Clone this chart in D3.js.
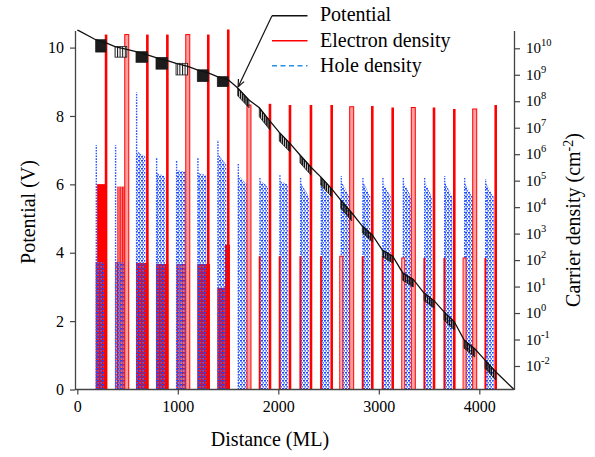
<!DOCTYPE html>
<html>
<head>
<meta charset="utf-8">
<script src="https://cdn.jsdelivr.net/npm/d3@7"></script>
<style>
  body { margin: 0; background: #fff; }
  text { font-family: "Liberation Serif", "Times New Roman", serif; fill: #000; }
</style>
</head>
<body>
<svg id="chart" width="595" height="457"></svg>
<script>
// ---- data ----
// 20 quantum wells: hole region starts at wellStart, electron spike sits at wellEnd (ML)
var wellStart = [183, 375, 584, 783, 982, 1194, 1393, 1596, 1811, 2010, 2216, 2422, 2621, 2836, 3035, 3238, 3450, 3649, 3848, 4057];
var wellEnd   = [286, 492, 697, 896, 1099, 1303, 1502, 1708, 1917, 2116, 2325, 2531, 2730, 2935, 3138, 3343, 3549, 3751, 3954, 4163];
var hollowWell = [0, 1, 0, 0, 1, 0, 0, 1, 0, 0, 0, 0, 1, 0, 0, 1, 0, 0, 1, 0];

// electron density peak at the right edge of each well (cm-2)
var spikeTop = [3.3e10, 3.3e10, 3.3e10, 3.3e10, 3.3e10, 3.3e10, 6e10, 7.2e7, 8e7, 7.2e7,
                7.2e7, 7.2e7, 6.2e7, 6.6e7, 5.8e7, 5.8e7, 5.8e7, 5.1e7, 5.1e7, 7.2e7];
// electron density at the left edge of wells 9-20
var edgeTop = [null, null, null, null, null, null, null, null, 140, 140,
               140, 140, 140, 140, 140, 120, 120, 120, 120, 120];

// electron density plateaus inside the first wells
var elecBlockStart = [183, 375, 584, 783, 982, 1194, 1393, 1469, 197, 398];
var elecBlockEnd   = [296, 514, 706, 905, 1114, 1320, 1469, 1519, 293, 501];
var elecBlockN     = [85, 85, 78, 71, 71, 71, 9, 380, 7.4e4, 6e4];
var elecBlockStripe = [0, 1, 0, 0, 1, 0, 0, 0, 0, 1];

// hole density: peak at the left edge, then level just after it and at the right end
var holePeak = [2.2e6, 2.2e6, 2.2e8, 7e5, 6e5, 7e5, 3.4e6, 4.5e5, 1.4e5, 1.6e5,
                1.4e5, 8e4, 1.5e5, 1.4e5, 1.25e5, 1.4e5, 1.4e5, 1.5e5, 1.25e5, 1.15e5];
var holeMid  = [85, 85, 1.3e6, 2e5, 2.5e5, 2e5, 1e6, 1.6e5, 1e5, 1e5,
                8e4, 6e4, 9e4, 9e4, 8e4, 9e4, 9e4, 9e4, 8e4, 8e4];
var holeEnd  = [85, 85, 8e5, 1.4e5, 2.2e5, 1.6e5, 4e5, 7e4, 6e4, 7e4,
                2.5e4, 2.5e4, 2.5e4, 2.5e4, 2.5e4, 2.4e4, 2.4e4, 2.4e4, 2.4e4, 2.4e4];

// potential (V): mean line and the oscillating region inside each well
var potX = [0, 183, 286, 375, 492, 584, 697, 783, 896, 982, 1099, 1194, 1303, 1393, 1502,
            1596, 1708, 1811, 1917, 2010, 2116, 2216, 2325, 2422, 2531, 2621, 2730, 2836, 2935,
            3035, 3138, 3238, 3343, 3450, 3549, 3649, 3751, 3848, 3954, 4057, 4163, 4345];
var potV = [10.52, 10.23, 10.14, 10.03, 9.95, 9.88, 9.79, 9.71, 9.62, 9.54, 9.45, 9.35, 9.26, 9.15, 9.06,
            8.82, 8.47, 8.24, 7.85, 7.52, 7.2, 6.86, 6.5, 6.22, 5.87, 5.54, 5.17, 4.78, 4.52,
            4.08, 3.9, 3.41, 3.22, 2.82, 2.6, 2.27, 1.98, 1.45, 1.19, 0.86, 0.52, 0];
var blockTop = [10.23, 10.03, 9.88, 9.71, 9.54, 9.35, 9.15, 8.82, 8.24, 7.52,
                6.86, 6.22, 5.54, 4.78, 4.08, 3.41, 2.82, 2.27, 1.45, 0.86];
var blockBot = [9.87, 9.72, 9.57, 9.37, 9.20, 9.01, 8.86, 8.24, 7.59, 6.95,
                6.27, 5.63, 4.93, 4.32, 3.70, 3.00, 2.38, 1.74, 0.95, 0.28];
var blockKind = ["solid", "stripe", "solid", "solid", "stripe", "solid", "solid", "jag", "jag", "jag",
                 "jag", "jag", "jag", "jag", "jag", "jag", "jag", "jag", "jag", "jag"];

var xTicks = [0, 1000, 2000, 3000, 4000];
var vTicks = [0, 2, 4, 6, 8, 10];
var nExp = [-2, -1, 0, 1, 2, 3, 4, 5, 6, 7, 8, 9, 10];

var legendNames = ["Potential", "Electron density", "Hole density"];

// ---- scales ----
var plotL = 75, plotR = 514, plotT = 30.5, plotB = 389.5;
var x = d3.scaleLinear().domain([-23, 4345]).range([plotL, plotR]);
var y = d3.scaleLinear().domain([0, 10.5]).range([plotB, plotT]);
var yN = d3.scaleLog().domain([Math.pow(10, -2.888), Math.pow(10, 10.672)]).range([plotB, plotT]);

var svg = d3.select("#chart");
var defs = svg.append("defs");

defs.append("clipPath").attr("id", "plotClip")
    .append("rect").attr("x", plotL).attr("y", plotT - 1)
    .attr("width", plotR - plotL).attr("height", plotB - plotT + 1);

// dashed hole line oscillating every monolayer -> dense blue zigzag texture
var holeTex = defs.append("pattern").attr("id", "holeTex")
    .attr("patternUnits", "userSpaceOnUse").attr("width", 3).attr("height", 4);
holeTex.append("rect").attr("x", 0).attr("y", 0).attr("width", 2).attr("height", 1.6).attr("fill", "#1a46ff");
holeTex.append("rect").attr("x", 1.4).attr("y", 2).attr("width", 1.6).attr("height", 1.6).attr("fill", "#3f6cff");

var redStripe = defs.append("pattern").attr("id", "redStripe")
    .attr("patternUnits", "userSpaceOnUse").attr("width", 2.6).attr("height", 10);
redStripe.append("rect").attr("width", 2.6).attr("height", 10).attr("fill", "#ff8f8f");
redStripe.append("rect").attr("width", 1.2).attr("height", 10).attr("fill", "#ff0000");

var potStripe = defs.append("pattern").attr("id", "potStripe")
    .attr("patternUnits", "userSpaceOnUse").attr("width", 2.6).attr("height", 10);
potStripe.append("rect").attr("width", 2.6).attr("height", 10).attr("fill", "#fff");
potStripe.append("rect").attr("width", 1).attr("height", 10).attr("fill", "#111");

var jagTex = defs.append("pattern").attr("id", "jagTex")
    .attr("patternUnits", "userSpaceOnUse").attr("width", 2.2).attr("height", 10);
jagTex.append("rect").attr("width", 1.6).attr("height", 10).attr("fill", "#151515");

var plot = svg.append("g").attr("clip-path", "url(#plotClip)");

var wells = d3.range(wellStart.length).map(function(i) {
    return {
        i: i, x0: wellStart[i], x1: wellEnd[i], hollow: hollowWell[i],
        spike: spikeTop[i], edge: edgeTop[i],
        hPeak: holePeak[i], hMid: holeMid[i], hEnd: holeEnd[i],
        vTop: blockTop[i], vBot: blockBot[i], kind: blockKind[i]
    };
});
var blocks = elecBlockStart.map(function(s, i) {
    return { x0: s, x1: elecBlockEnd[i], n: elecBlockN[i], stripe: elecBlockStripe[i] };
});

// electron plateaus
plot.selectAll("rect.eblock").data(blocks).enter().append("rect")
    .attr("class", "eblock")
    .attr("x", function(d) { return x(d.x0); })
    .attr("width", function(d) { return x(d.x1) - x(d.x0); })
    .attr("y", function(d) { return yN(d.n); })
    .attr("height", function(d) { return plotB - yN(d.n); })
    .attr("fill", function(d) { return d.stripe ? "url(#redStripe)" : "#ff0000"; });

// hole density
plot.selectAll("path.hole").data(wells).enter().append("path")
    .attr("class", "hole")
    .attr("fill", "url(#holeTex)")
    .attr("d", function(d) {
        var a = x(d.x0 + 8), b = x(d.x1 - 20);
        return "M" + a + "," + plotB + "L" + a + "," + yN(d.hMid) +
               "L" + b + "," + yN(d.hEnd) + "L" + b + "," + plotB + "Z";
    });
plot.selectAll("line.holePeak").data(wells).enter().append("line")
    .attr("class", "holePeak")
    .attr("x1", function(d) { return x(d.x0) + 0.6; })
    .attr("x2", function(d) { return x(d.x0) + 0.6; })
    .attr("y1", plotB)
    .attr("y2", function(d) { return yN(d.hPeak); })
    .attr("stroke", "#2a58ff").attr("stroke-width", 1.4)
    .attr("stroke-dasharray", "1.6,1.2");

// electron density at left well edge
var edges = wells.filter(function(d) { return d.edge !== null; });
plot.selectAll("rect.edge").data(edges).enter().append("rect")
    .attr("class", "edge")
    .attr("x", function(d) { return x(d.x0) - (d.hollow ? 1 : 0.6); })
    .attr("width", function(d) { return d.hollow ? 3 : 1.8; })
    .attr("y", function(d) { return yN(d.edge); })
    .attr("height", function(d) { return plotB - yN(d.edge); })
    .attr("fill", function(d) { return d.hollow ? "#ffb0b0" : "#ff0000"; })
    .attr("stroke", function(d) { return d.hollow ? "#ff0000" : "none"; })
    .attr("stroke-width", 0.9);

// electron spikes
plot.selectAll("rect.spike").data(wells).enter().append("rect")
    .attr("class", "spike")
    .attr("x", function(d) { return x(d.x1) - (d.hollow ? 2 : 1.3); })
    .attr("width", function(d) { return d.hollow ? 4 : 2.6; })
    .attr("y", function(d) { return yN(d.spike); })
    .attr("height", function(d) { return plotB - yN(d.spike) + 2; })
    .attr("fill", function(d) { return d.hollow ? "#ffa0a0" : "#ff0000"; })
    .attr("stroke", function(d) { return d.hollow ? "#ff0000" : "none"; })
    .attr("stroke-width", 1);

// potential: oscillating regions inside the wells
plot.selectAll("rect.pblock").data(wells.filter(function(d) { return d.kind !== "jag"; }))
    .enter().append("rect")
    .attr("class", "pblock")
    .attr("x", function(d) { return x(d.x0); })
    .attr("width", function(d) { return x(d.x1) - x(d.x0); })
    .attr("y", function(d) { return y(d.vTop); })
    .attr("height", function(d) { return y(d.vBot) - y(d.vTop); })
    .attr("fill", function(d) { return d.kind === "stripe" ? "url(#potStripe)" : "#1c1c1c"; })
    .attr("stroke", "#1c1c1c").attr("stroke-width", 0.8);

// jagged wells: band between the mean line and the lowest swing
plot.selectAll("path.pjag").data(wells.filter(function(d) { return d.kind === "jag"; }))
    .enter().append("path")
    .attr("class", "pjag")
    .attr("d", function(d) {
        var lineEnd = potV[potX.indexOf(d.x1)];
        var depth = lineEnd - d.vBot;
        return "M" + x(d.x0) + "," + y(d.vTop) +
               "L" + x(d.x1) + "," + y(lineEnd) +
               "L" + x(d.x1) + "," + y(d.vBot) +
               "L" + x(d.x0) + "," + y(d.vTop - depth) + "Z";
    })
    .attr("fill", "url(#jagTex)")
    .attr("stroke", "#1c1c1c").attr("stroke-width", 0.8);

var potLine = d3.line()
    .x(function(d) { return x(d[0]); })
    .y(function(d) { return y(d[1]); });
plot.append("path")
    .datum(potX.map(function(v, i) { return [v, potV[i]]; }))
    .attr("d", potLine)
    .attr("fill", "none").attr("stroke", "#111").attr("stroke-width", 1.3);

// ---- axes ----
var axisColor = "#444";
var gx = svg.append("g").attr("transform", "translate(0," + plotB + ")")
    .call(d3.axisBottom(x).tickValues(xTicks).tickFormat(d3.format("d"))
        .tickSize(5).tickSizeOuter(0).tickPadding(6));
var gy = svg.append("g").attr("transform", "translate(" + plotL + ",0)")
    .call(d3.axisLeft(y).tickValues(vTicks).tickSize(5).tickSizeOuter(0).tickPadding(6));
var gr = svg.append("g").attr("transform", "translate(" + plotR + ",0)")
    .call(d3.axisRight(yN).tickValues(nExp.map(function(e) { return Math.pow(10, e); }))
        .tickSize(6).tickSizeOuter(0).tickFormat(""));

[gx, gy, gr].forEach(function(g) {
    g.select(".domain").attr("stroke", axisColor).attr("stroke-width", 1.3);
    g.selectAll(".tick line").attr("stroke", axisColor).attr("stroke-width", 1.2);
    g.selectAll(".tick text").attr("font-size", 16).attr("font-family", "Liberation Serif").attr("fill", "#000");
});
gx.select(".domain").attr("d", "M" + plotL + ",0H" + plotR);

var rl = svg.append("g").selectAll("text").data(nExp).enter().append("text")
    .attr("x", plotR + 12)
    .attr("y", function(e) { return yN(Math.pow(10, e)) + 5; })
    .attr("font-size", 15);
rl.append("tspan").text("10");
rl.append("tspan").attr("dy", -7).attr("font-size", 10.5).text(function(e) { return e; });

// axis titles
svg.append("text")
    .attr("transform", "translate(35,212) rotate(-90)")
    .attr("text-anchor", "middle").attr("font-size", 20)
    .text("Potential (V)");
svg.append("text")
    .attr("x", 270).attr("y", 446)
    .attr("text-anchor", "middle").attr("font-size", 20)
    .text("Distance (ML)");
var rt = svg.append("text")
    .attr("transform", "translate(580,220) rotate(-90)")
    .attr("text-anchor", "middle").attr("font-size", 20);
rt.append("tspan").text("Carrier density (cm");
rt.append("tspan").attr("dy", -7).attr("font-size", 14).text("-2");
rt.append("tspan").attr("dy", 7).text(")");

// ---- legend ----
var legendColors = ["#111", "#ff0000", "#2a8fe6"];
var legendDash = [null, null, "5,3.5"];
var lg = svg.append("g");
legendNames.forEach(function(name, i) {
    var ly = 15.7 + i * 25;
    lg.append("line").attr("x1", 272).attr("x2", 307.5).attr("y1", ly).attr("y2", ly)
        .attr("stroke", legendColors[i]).attr("stroke-width", 1.4)
        .attr("stroke-dasharray", legendDash[i]);
    lg.append("text").attr("x", 320).attr("y", ly + 5.5 + i * 0.5)
        .attr("font-size", 20).text(name);
});

// arrow from the Potential legend entry to the line
var tipX = x(1600), tipY = y(8.85);
lg.append("line").attr("x1", 272).attr("y1", 15.7).attr("x2", tipX).attr("y2", tipY)
    .attr("stroke", "#111").attr("stroke-width", 1.2);
var ang = Math.atan2(tipY - 15.7, tipX - 272);
[0.4, -0.4].forEach(function(da) {
    lg.append("line").attr("x1", tipX).attr("y1", tipY)
        .attr("x2", tipX - 8 * Math.cos(ang + da)).attr("y2", tipY - 8 * Math.sin(ang + da))
        .attr("stroke", "#111").attr("stroke-width", 1.2);
});
</script>
</body>
</html>
